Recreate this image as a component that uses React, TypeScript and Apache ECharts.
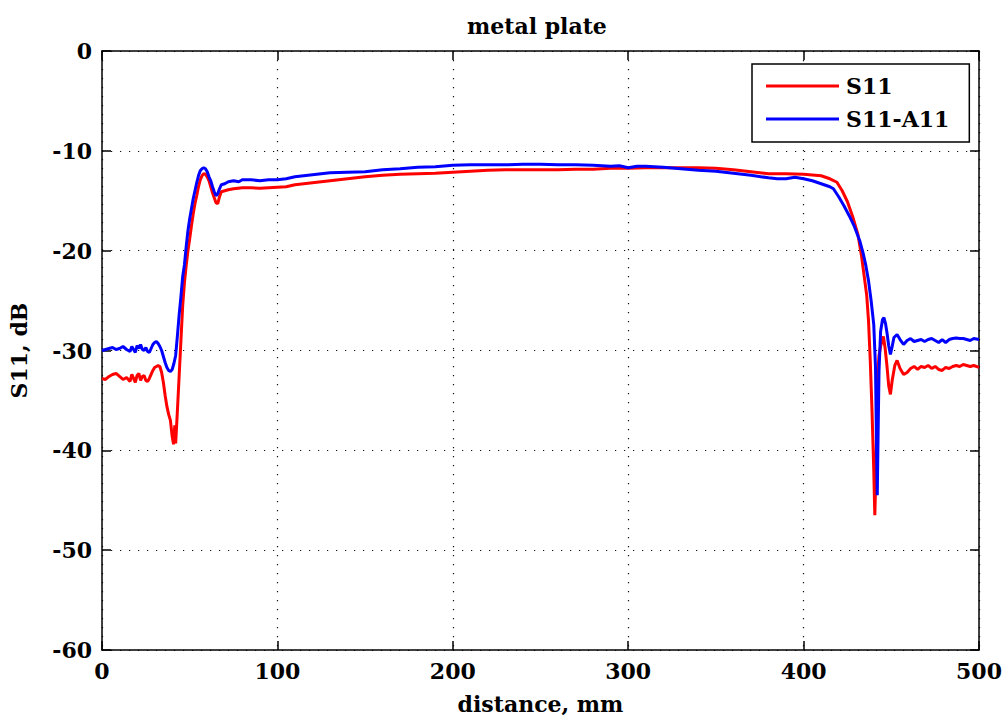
import React, { useEffect, useRef } from "react";
import * as echarts from "echarts";

// Axis ticks
const xTicks = [0, 100, 200, 300, 400, 500];
const yTicks = [-60, -50, -40, -30, -20, -10, 0];

// S11 measurement: [distance mm, dB]
const s11: [number, number][] = [
  [0, -32.8], [2, -32.9], [4, -32.6], [6, -32.4], [8, -32.3], [10, -32.6], [12, -32.9],
  [14, -32.7], [16, -33.1], [17, -32.4], [18, -32.8], [19, -33.2], [20, -32.5], [21, -32.3],
  [22, -33.0], [23, -32.6], [24, -32.5], [25, -33.0], [26, -33.1], [27, -32.8], [28, -32.4],
  [29, -32.0], [30, -31.7], [32, -31.5], [33, -31.6], [34, -32.2], [35, -33.2], [36, -34.5],
  [37, -35.6], [38, -36.4], [39, -37.0], [40, -38.6], [40.8, -39.4], [41.5, -37.5], [42, -39.3],
  [43, -36.0], [44, -32.5], [45, -29.0], [46, -25.5], [47, -23.2], [48, -21.5], [49, -20.0],
  [50, -18.8], [51, -17.5], [52, -16.3], [53, -15.3], [54, -14.5], [55, -13.6], [56, -12.9],
  [57, -12.5], [58, -12.3], [59, -12.35], [60, -12.6], [61, -13.0], [62, -13.6], [63, -14.2],
  [64, -14.7], [65, -15.2], [66, -15.3], [67, -14.6], [68, -14.1], [70, -14.0], [72, -13.9],
  [75, -13.8], [80, -13.7], [85, -13.7], [90, -13.75], [95, -13.7], [100, -13.65], [105, -13.6],
  [110, -13.4], [115, -13.3], [120, -13.2], [130, -13.0], [140, -12.8], [150, -12.6],
  [160, -12.45], [170, -12.35], [180, -12.3], [190, -12.25], [200, -12.15], [210, -12.05],
  [220, -11.95], [230, -11.9], [240, -11.9], [250, -11.9], [260, -11.9], [270, -11.85],
  [280, -11.85], [290, -11.75], [300, -11.75], [310, -11.7], [320, -11.7], [330, -11.7],
  [340, -11.7], [350, -11.75], [360, -11.9], [370, -12.1], [380, -12.3], [390, -12.3],
  [400, -12.35], [410, -12.5], [415, -12.8], [419, -13.15], [422, -14.0], [425, -15.1],
  [428, -16.6], [431, -18.4], [433, -20.5], [434.5, -22.5], [436, -24.5], [437, -27.0],
  [438, -31.0], [439, -36.0], [440, -42.0], [440.6, -46.5], [441.3, -42.0], [442, -33.0],
  [443, -30.5], [444, -29.5], [445.5, -28.6], [446.5, -29.8], [447.5, -31.5], [448.5, -33.5],
  [449.5, -34.4], [450.5, -33.0], [452, -31.5], [453.3, -31.0], [455, -31.8], [457, -32.4],
  [459, -32.2], [461, -31.8], [463, -31.6], [465, -31.9], [467, -31.6], [469, -31.7],
  [471, -31.5], [473, -31.8], [475, -31.6], [477, -31.9], [479, -32.0], [481, -31.7],
  [483, -31.8], [485, -31.6], [487, -31.5], [489, -31.6], [491, -31.4], [493, -31.5],
  [495, -31.6], [497, -31.5], [500, -31.7],
];

// S11-A11 measurement: [distance mm, dB]
const s11a11: [number, number][] = [
  [0, -30.0], [2, -29.9], [4, -29.8], [6, -29.7], [8, -29.9], [10, -29.8], [12, -29.6],
  [14, -29.9], [16, -30.1], [17, -29.6], [18, -29.9], [19, -30.2], [20, -29.5], [21, -29.8],
  [22, -29.4], [23, -29.9], [24, -30.0], [25, -29.7], [26, -30.1], [27, -30.2], [28, -29.8],
  [29, -29.4], [30, -29.2], [31, -29.1], [32, -29.3], [33, -29.6], [34, -30.0], [35, -30.6],
  [36, -31.2], [37, -31.7], [38, -32.0], [39, -32.1], [40, -31.9], [41, -31.3], [42, -30.5],
  [43, -28.5], [44, -26.4], [45, -24.6], [46, -22.6], [47, -21.4], [48, -19.6], [49, -18.0],
  [50, -16.8], [51, -15.8], [52, -14.8], [53, -14.0], [54, -13.2], [55, -12.5], [56, -12.0],
  [57, -11.8], [58, -11.7], [59, -11.8], [60, -12.1], [61, -12.6], [62, -13.0], [63, -13.6],
  [64, -14.1], [65, -14.5], [66, -14.3], [67, -13.8], [68, -13.4], [70, -13.3], [72, -13.1],
  [75, -13.0], [78, -13.1], [80, -12.9], [85, -12.9], [90, -13.0], [95, -12.9], [100, -12.9],
  [105, -12.8], [110, -12.6], [115, -12.5], [120, -12.4], [130, -12.2], [140, -12.15],
  [150, -12.1], [160, -11.9], [170, -11.8], [180, -11.65], [190, -11.6], [200, -11.45],
  [210, -11.4], [220, -11.4], [230, -11.4], [240, -11.35], [250, -11.35], [260, -11.4],
  [270, -11.4], [280, -11.45], [290, -11.55], [295, -11.5], [300, -11.7], [305, -11.55],
  [310, -11.55], [320, -11.65], [330, -11.8], [340, -11.95], [350, -12.05], [360, -12.25],
  [370, -12.45], [380, -12.7], [385, -12.8], [390, -12.8], [395, -12.65], [400, -12.8],
  [405, -13.0], [410, -13.3], [415, -13.6], [417, -13.8], [420, -14.6], [423, -15.5],
  [426, -16.5], [429, -17.6], [432, -19.0], [434, -20.3], [435.5, -21.5], [437, -23.0],
  [438.5, -25.0], [440, -27.4], [441, -31.7], [441.6, -40.0], [442, -44.5], [442.5, -38.0],
  [443, -32.0], [443.9, -28.1], [445, -26.9], [445.8, -26.7], [446.7, -27.3], [447.6, -28.3],
  [448.5, -29.5], [449.5, -30.4], [450.5, -29.6], [451.5, -28.7], [453.3, -28.4],
  [455, -28.9], [457, -29.4], [459, -29.0], [461, -28.8], [463, -29.1], [465, -29.0],
  [467, -28.9], [469, -29.1], [471, -28.9], [473, -28.8], [475, -29.0], [477, -29.2],
  [479, -28.9], [481, -29.2], [483, -28.9], [485, -28.8], [487, -28.75], [489, -28.8],
  [491, -28.8], [493, -28.9], [495, -29.0], [497, -28.8], [500, -28.9],
];

const FONT = "DejaVu Serif";
const labelStyle = { fontFamily: FONT, fontWeight: "bold" as const, fontSize: 22, color: "#000" };
const gridLine = { show: true, lineStyle: { color: "#111", width: 1.2, type: [1.2, 7.8] } };
const frameLine = { show: true, onZero: false, lineStyle: { color: "#000", width: 1.5 } };
const innerTicks = { show: true, inside: true, length: 9, lineStyle: { color: "#000", width: 1.5 } };

export default function App() {
  const ref = useRef<HTMLDivElement>(null);

  useEffect(() => {
    if (!ref.current) return;
    const chart = echarts.init(ref.current, undefined, { renderer: "svg" });
    const xMin = xTicks[0];
    const xMax = xTicks[xTicks.length - 1];
    const yMin = yTicks[0];
    const yMax = yTicks[yTicks.length - 1];
    chart.setOption({
      animation: false,
      backgroundColor: "#fff",
      title: {
        text: "metal plate",
        left: 462,
        top: 10,
        textStyle: { ...labelStyle },
      },
      grid: { left: 101, top: 51, width: 878, height: 603, containLabel: false },
      legend: {
        orient: "vertical",
        left: 752,
        top: 64,
        icon: "rect",
        itemWidth: 73,
        itemHeight: 3,
        itemGap: 11,
        padding: [11, 20, 12, 14],
        borderColor: "#000",
        borderWidth: 1.5,
        backgroundColor: "#fff",
        textStyle: { ...labelStyle, padding: [0, 0, 0, 2] },
        data: ["S11", "S11-A11"],
      },
      xAxis: [
        {
          type: "value",
          min: xMin,
          max: xMax,
          interval: 100,
          name: "distance, mm",
          nameLocation: "middle",
          nameGap: 43,
          nameTextStyle: { ...labelStyle },
          axisLine: frameLine,
          axisTick: innerTicks,
          axisLabel: { ...labelStyle, margin: 10 },
          splitLine: gridLine,
        },
        {
          type: "value",
          position: "top",
          min: xMin,
          max: xMax,
          interval: 100,
          axisLine: frameLine,
          axisTick: innerTicks,
          axisLabel: { show: false },
          splitLine: { show: false },
        },
      ],
      yAxis: [
        {
          type: "value",
          min: yMin,
          max: yMax,
          interval: 10,
          name: "S11, dB",
          nameLocation: "middle",
          nameGap: 72,
          nameTextStyle: { ...labelStyle },
          axisLine: frameLine,
          axisTick: innerTicks,
          axisLabel: { ...labelStyle, margin: 10 },
          splitLine: gridLine,
        },
        {
          type: "value",
          position: "right",
          min: yMin,
          max: yMax,
          interval: 10,
          axisLine: frameLine,
          axisTick: innerTicks,
          axisLabel: { show: false },
          splitLine: { show: false },
        },
      ],
      series: [
        {
          name: "S11",
          type: "line",
          data: s11,
          showSymbol: false,
          symbol: "none",
          lineStyle: { color: "#ff0000", width: 3 },
          itemStyle: { color: "#ff0000" },
        },
        {
          name: "S11-A11",
          type: "line",
          data: s11a11,
          showSymbol: false,
          symbol: "none",
          lineStyle: { color: "#0000ff", width: 3 },
          itemStyle: { color: "#0000ff" },
        },
      ],
    });
    return () => chart.dispose();
  }, []);

  return (
    <div
      ref={ref}
      style={{ position: "fixed", left: 0, top: 0, width: 1005, height: 720, background: "#fff" }}
    />
  );
}
